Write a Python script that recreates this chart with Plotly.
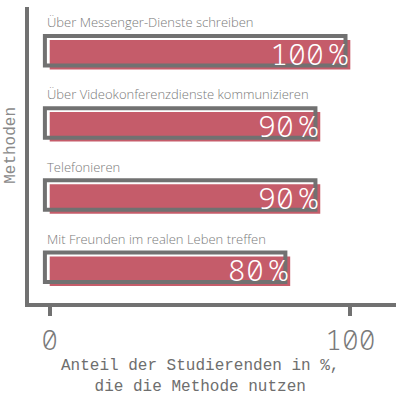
import plotly.graph_objects as go

categories = [
    "Über Messenger-Dienste schreiben",
    "Über Videokonferenzdienste kommunizieren",
    "Telefonieren",
    "Mit Freunden im realen Leben treffen",
]
values = [100, 90, 90, 80]
value_labels = ["100", "90", "90", "80"]
unit = "%"
tick_values = [0, 100]
tick_labels = ["0", "100"]

FILL = "#c55c6a"
GREY = "#717171"
TEXT_GREY = "#7a7a7a"
MONO = "Noto Sans Mono, DejaVu Sans Mono, monospace"

n = len(categories)
pos = [n - 1 - i for i in range(n)]  # top to bottom

bar_w = 0.409
shift_y = 0.055
shift_x = -1.6

fig = go.Figure()
fig.add_trace(go.Bar(
    y=pos, x=values, orientation="h", width=bar_w,
    marker=dict(color=FILL, line=dict(width=0)),
    hoverinfo="skip", showlegend=False,
))
fig.add_trace(go.Bar(
    y=pos, x=values, base=shift_x, orientation="h", width=bar_w,
    offset=-bar_w / 2 + shift_y,
    marker=dict(color="rgba(0,0,0,0)", line=dict(color=GREY, width=4)),
    hoverinfo="skip", showlegend=False,
))

for p, cat, v, lab in zip(pos, categories, values, value_labels):
    fig.add_annotation(
        x=shift_x, y=p + 0.45, xref="x", yref="y", text=cat,
        xanchor="left", yanchor="middle", showarrow=False,
        font=dict(family="Open Sans", size=13, color=TEXT_GREY, weight=300),
    )
    fig.add_annotation(
        x=v, y=p + 0.02, xref="x", yref="y",
        text=lab + '<span style="font-size:9px"> </span>' + unit,
        xanchor="right", yanchor="middle", showarrow=False, xshift=-1,
        font=dict(family=MONO, size=30, color="white", weight=300),
    )

fig.add_annotation(
    x=50, y=-0.176, xref="x", yref="paper",
    text="Anteil der Studierenden in %,<br>die die Methode nutzen",
    xanchor="center", yanchor="top", showarrow=False,
    font=dict(family="Liberation Mono", size=16, color="#6e6e6e"),
)
fig.add_annotation(
    x=-0.051, y=0.532, xref="paper", yref="paper", text="Methoden",
    textangle=-90, xanchor="center", yanchor="middle", showarrow=False,
    font=dict(family="Liberation Mono", size=16, color="#8a8a8a"),
)

fig.update_layout(
    width=396, height=396,
    margin=dict(l=29, r=0, t=7, b=93),
    paper_bgcolor="white", plot_bgcolor="white",
    barmode="overlay",
    xaxis=dict(
        range=[-6.89, 115.2], showgrid=False, zeroline=False,
        showline=True, linecolor=GREY, linewidth=4,
        ticks="outside", ticklen=9, tickwidth=4, tickcolor=GREY,
        tickvals=tick_values, ticktext=tick_labels,
        tickfont=dict(family=MONO, size=28, color=TEXT_GREY, weight=300),
    ),
    yaxis=dict(
        range=[-0.441, 3.661], showgrid=False, zeroline=False,
        showline=True, linecolor=GREY, linewidth=4,
        showticklabels=False, ticks="",
    ),
)

fig.write_html("out.html", post_script="document.body.style.margin='0';",
               config={"displayModeBar": False})
